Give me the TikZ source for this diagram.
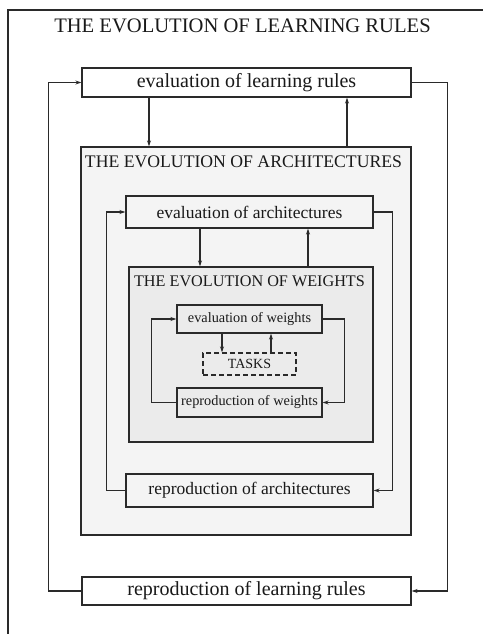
\documentclass[tikz,border=0pt]{standalone}
\usepackage{fontspec}
\setmainfont{Liberation Serif}
\usetikzlibrary{arrows.meta,calc}
\definecolor{archbg}{HTML}{F4F4F4}
\definecolor{wbg}{HTML}{EBEBEB}
\definecolor{ln}{HTML}{2A2A2A}
\tikzset{
  box/.style={draw=ln,line width=1.3pt,inner sep=0pt,anchor=center,text=black!90},
  arr/.style={draw=ln,line width=1.3pt,-{Stealth[length=6pt,width=4pt]}},
  ln/.style={draw=ln,line width=1.3pt},
  big/.style={font=\fontsize{20}{24}\selectfont},
  mid/.style={font=\fontsize{17.5}{21}\selectfont},
  sml/.style={font=\fontsize{14.3}{17}\selectfont},
}
\begin{document}
\begin{tikzpicture}[x=1pt,y=-1pt]
\useasboundingbox (0,0) rectangle (483,634);
% outer frame (partly visible)
\draw[ln,line width=1.2pt] (8,634) -- (8,10) -- (483,10);
\node[text=black!90,font=\fontsize{20.6}{24}\selectfont] (t1) at (242.5,26) {THE EVOLUTION OF LEARNING RULES};
% learning-rule level
\node[box,big,fill=white,minimum width=329pt,minimum height=29pt] (lrE) at (246.5,82.5) {evaluation of learning rules};
\node[box,big,fill=white,minimum width=329pt,minimum height=28pt] (lrR) at (246.5,591) {reproduction of learning rules};
\node[box,fill=archbg,minimum width=330pt,minimum height=388pt] (arch) at (246,341) {};
\node[text=black!90,font=\fontsize{17.7}{21}\selectfont] (t2) at (243.5,162) {THE EVOLUTION OF ARCHITECTURES};
% architecture level
\node[box,mid,fill=archbg,minimum width=247pt,minimum height=32pt] (aE) at (249.5,212) {evaluation of architectures};
\node[box,mid,fill=archbg,minimum width=247pt,minimum height=33pt] (aR) at (249.5,490.5) {reproduction of architectures};
\node[box,fill=wbg,minimum width=244pt,minimum height=175pt] (w) at (251,354.5) {};
\node[text=black!90,font=\fontsize{16.2}{19}\selectfont] (t3) at (249.5,281) {THE EVOLUTION OF WEIGHTS};
% weight level
\node[box,sml,fill=wbg,minimum width=145pt,minimum height=28pt] (wE) at (249.5,319) {evaluation of weights};
\node[box,sml,fill=wbg,minimum width=145pt,minimum height=29pt] (wR) at (249.5,402.5) {reproduction of weights};
\node[box,dash pattern=on 5pt off 3pt,font=\fontsize{14}{17}\selectfont,minimum width=93pt,minimum height=22pt] (tasks) at (249.5,364) {TASKS};
% x positions of vertical arrows
\coordinate (x1) at (149,0);
\coordinate (x2) at (347,0);
\coordinate (x3) at (200,0);
\coordinate (x4) at (308,0);
\coordinate (x5) at (222,0);
\coordinate (x6) at (271,0);
% learning-rule connectors
\draw[arr] (lrE.south -| x1) -- (arch.north -| x1);
\draw[arr] (arch.north -| x2) -- (lrE.south -| x2);
\draw[arr] (lrR.west) -- ++(-33,0) |- (lrE.west);
\draw[arr] (lrE.east) -- ++(36,0) |- (lrR.east);
% architecture connectors
\draw[arr] (aE.south -| x3) -- (w.north -| x3);
\draw[arr] (w.north -| x4) -- (aE.south -| x4);
\draw[arr] (aR.west) -- ++(-19,0) |- (aE.west);
\draw[arr] (aE.east) -- ++(19,0) |- (aR.east);
% weight connectors
\draw[arr] (wE.south -| x5) -- (tasks.north -| x5);
\draw[arr] (tasks.north -| x6) -- (wE.south -| x6);
\draw[arr] (wR.west) -- ++(-25,0) |- (wE.west);
\draw[arr] (wE.east) -- ++(22,0) |- (wR.east);
\end{tikzpicture}
\end{document}
